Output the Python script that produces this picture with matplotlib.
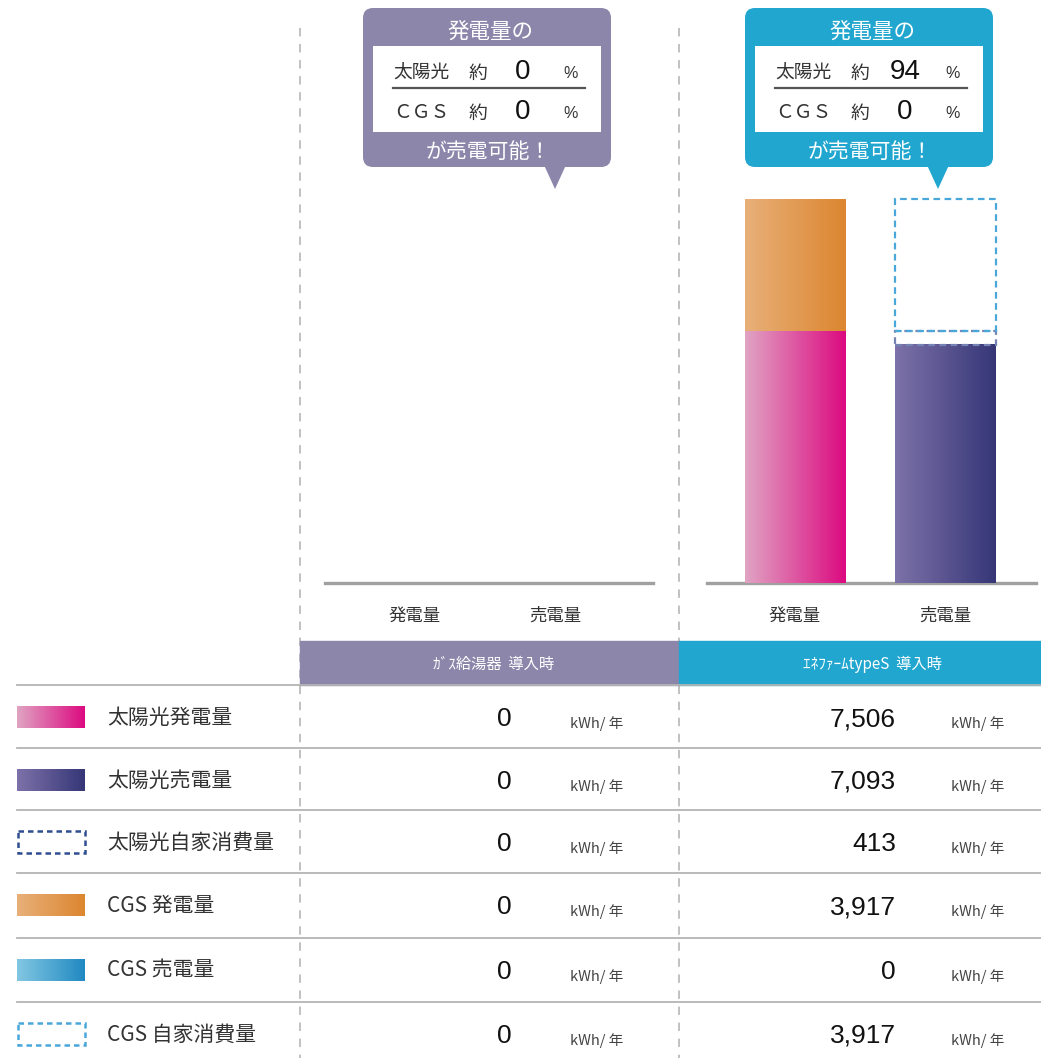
import matplotlib
matplotlib.use("Agg")
import matplotlib.pyplot as plt
import numpy as np
from matplotlib.colors import LinearSegmentedColormap
from matplotlib.patches import FancyBboxPatch, Polygon, Rectangle

plt.rcParams["font.family"] = ["Noto Sans CJK JP", "DejaVu Sans"]

# ---- data -------------------------------------------------------------
SCENARIOS = ["ｶﾞｽ給湯器  導入時", "ｴﾈﾌｧｰﾑtypeS  導入時"]
BAR_LABELS = ["発電量", "売電量"]
ROW_LABELS = ["太陽光発電量", "太陽光売電量", "太陽光自家消費量",
              "CGS 発電量", "CGS 売電量", "CGS 自家消費量"]
GAS_VALUES = [0, 0, 0, 0, 0, 0]
ENEFARM_VALUES = [7506, 7093, 413, 3917, 0, 3917]
SELL_PCT_SOLAR = [0, 94]
SELL_PCT_CGS = [0, 0]
UNIT = "kWh/ 年"

# ---- styling ----------------------------------------------------------
W, H = 1041, 1063
TEXT = "#333333"
GRID = "#b4b4b4"
BAND_COLORS = ["#8c86ab", "#21a6cf"]
GRAD_SOLAR_GEN = ("#e0a4c3", "#dc0a80")
GRAD_SOLAR_SELL = ("#7d72a9", "#363677")
GRAD_CGS_GEN = ("#e8b079", "#dc8630")
GRAD_CGS_SELL = ("#82c7e2", "#2189c2")
DASH_SOLAR = "#2f4d91"
DASH_SOLAR_BAR = "#7584b4"
DASH_CGS = "#4aa7da"
NUM_FONT = ["Liberation Sans", "DejaVu Sans"]


def frame(x0, y0, x1, y1):
    """pixel box (top-left origin) -> figure fraction rect"""
    return [x0 / W, 1 - y1 / H, (x1 - x0) / W, (y1 - y0) / H]


def gradient(ax, x0, x1, y0, y1, colors, z=2):
    cmap = LinearSegmentedColormap.from_list("g", colors)
    ax.imshow(np.linspace(0, 1, 256).reshape(1, -1), cmap=cmap,
              extent=[x0, x1, y0, y1], aspect="auto",
              interpolation="bilinear", zorder=z)


fig = plt.figure(figsize=(W / 100, H / 100), dpi=100)

# background layer in pixel coordinates
bg = fig.add_axes([0, 0, 1, 1], zorder=0)
bg.set_xlim(0, W)
bg.set_ylim(H, 0)
bg.axis("off")

# dashed column dividers
for x in (300, 679):
    bg.plot([x, x], [28, 1058], color="#b0b0b0", lw=1.1,
            ls=(0, (5.5, 5)), zorder=1)

# scenario bands
band_x = [(300, 679), (679, W)]
band_text_x = [494, 872]
for (x0, x1), col, name, tx in zip(band_x, BAND_COLORS, SCENARIOS, band_text_x):
    bg.add_patch(Rectangle((x0, 641), x1 - x0, 44, color=col, zorder=2))
    bg.text(tx, 664, name, color="white", fontsize=11, ha="center",
            va="center", zorder=3)

# table rules
line_y = [685, 748, 810, 873, 938, 1002]
for y in line_y:
    bg.plot([17, W], [y, y], color=GRID, lw=1.3, zorder=2)

# table rows
legend_style = [GRAD_SOLAR_GEN, GRAD_SOLAR_SELL, DASH_SOLAR,
                GRAD_CGS_GEN, GRAD_CGS_SELL, DASH_CGS]
for i, label in enumerate(ROW_LABELS):
    yc = line_y[i] + 32
    style = legend_style[i]
    if isinstance(style, tuple):
        gradient(bg, 17, 85, yc + 11, yc - 11, style, z=3)
    else:
        bg.add_patch(Rectangle((18, yc - 11), 67, 22, fill=False, ec=style,
                               lw=1.8, ls=(0, (2.2, 1.6)), zorder=3))
    bg.text(107, yc + 1, label, fontsize=15, color=TEXT, va="center",
            zorder=3)
    for vals, vx, ux in ((GAS_VALUES, 512, 570), (ENEFARM_VALUES, 896, 951)):
        bg.text(vx, yc + 2, f"{vals[i]:,}", fontsize=19, color="#111111",
                ha="right", va="center", family=NUM_FONT, zorder=3)
        bg.text(ux, yc + 7, UNIT, fontsize=10.5, color="#444444",
                ha="left", va="center", zorder=3)

# speech bubbles
bubble_x = [363, 745]
tip_x = [555, 938]
for k in range(2):
    x0 = bubble_x[k]
    col = BAND_COLORS[k]
    bg.add_patch(FancyBboxPatch((x0, 8), 248, 159,
                                boxstyle="round,pad=0,rounding_size=10",
                                fc=col, ec="none", zorder=4))
    tx = tip_x[k]
    bg.add_patch(Polygon([(tx - 11, 165), (tx + 11, 165), (tx, 189)],
                         closed=True, fc=col, ec="none", zorder=4))
    bg.add_patch(Rectangle((x0 + 10, 46), 228, 86, fc="white", ec="none",
                           zorder=5))
    bg.text(x0 + 127, 32, "発電量の", color="white", fontsize=15.5,
            ha="center", va="center", zorder=6)
    bg.text(x0 + 125, 152, "が売電可能！", color="white", fontsize=15,
            ha="center", va="center", zorder=6)
    bg.plot([x0 + 30, x0 + 222], [88, 88], color="#555555", lw=1.6, zorder=6)
    rows = [("太陽光", SELL_PCT_SOLAR[k], 73), ("ＣＧＳ", SELL_PCT_CGS[k], 113)]
    for name, pct, y in rows:
        bg.text(x0 + 30, y, name, fontsize=13.5, color=TEXT, va="center",
                zorder=6)
        bg.text(x0 + 115, y, "約", fontsize=13.5, color=TEXT, ha="center",
                va="center", zorder=6)
        bg.text(x0 + 160, y - 1, f"{pct}", fontsize=20, color="#111111",
                ha="center", va="center", family=NUM_FONT, zorder=6)
        bg.text(x0 + 208, y, "%", fontsize=11.5, color=TEXT,
                ha="center", va="center", family=NUM_FONT, zorder=6)

# ---- bar charts -------------------------------------------------------
YMAX = 11900  # kWh shown over the 400 px chart height
chart_boxes = [(325, 653), (707, 1036)]
centers = [(415, 555), (795, 945)]
datasets = [GAS_VALUES, ENEFARM_VALUES]
for (x0, x1), (c0, c1), vals in zip(chart_boxes, centers, datasets):
    ax = fig.add_axes(frame(x0, 183, x1, 583), zorder=1)
    ax.patch.set_alpha(0)
    step = c1 - c0
    xl = (x0 - c0) / step
    xr = (x1 - c0) / step
    bw = 101 / step
    solar_gen, solar_sell, solar_self, cgs_gen, cgs_sell, cgs_self = vals

    # generation bar: solar + CGS stacked
    if solar_gen:
        gradient(ax, -bw / 2, bw / 2, 0, solar_gen, GRAD_SOLAR_GEN)
    if cgs_gen:
        gradient(ax, -bw / 2, bw / 2, solar_gen, solar_gen + cgs_gen,
                 GRAD_CGS_GEN)
    # sales bar: sold parts solid, self consumption dashed
    if solar_sell:
        gradient(ax, 1 - bw / 2, 1 + bw / 2, 0, solar_sell, GRAD_SOLAR_SELL)
    if cgs_sell:
        gradient(ax, 1 - bw / 2, 1 + bw / 2, solar_sell,
                 solar_sell + cgs_sell, GRAD_CGS_SELL)
    top = solar_sell + cgs_sell
    if solar_self:
        ax.add_patch(Rectangle((1 - bw / 2, top), bw, solar_self, fill=False,
                               ec=DASH_SOLAR_BAR, lw=1.6, ls=(0, (3, 2)),
                               zorder=3))
        top += solar_self
    if cgs_self:
        ax.add_patch(Rectangle((1 - bw / 2, top), bw, cgs_self, fill=False,
                               ec=DASH_CGS, lw=1.6, ls=(0, (3, 2)),
                               zorder=3))

    ax.axhline(0, color="#a0a0a0", lw=2.4, zorder=1, clip_on=False)
    ax.set_xlim(xl, xr)
    ax.set_ylim(0, YMAX)
    for s in ax.spines.values():
        s.set_visible(False)
    ax.set_yticks([])
    ax.set_xticks([0, 1])
    ax.set_xticklabels(BAR_LABELS, fontsize=12.5, color=TEXT)
    ax.tick_params(axis="x", length=0, pad=17)

bg.set_xlim(0, W)
bg.set_ylim(H, 0)

fig.savefig("out.png", dpi=100)
